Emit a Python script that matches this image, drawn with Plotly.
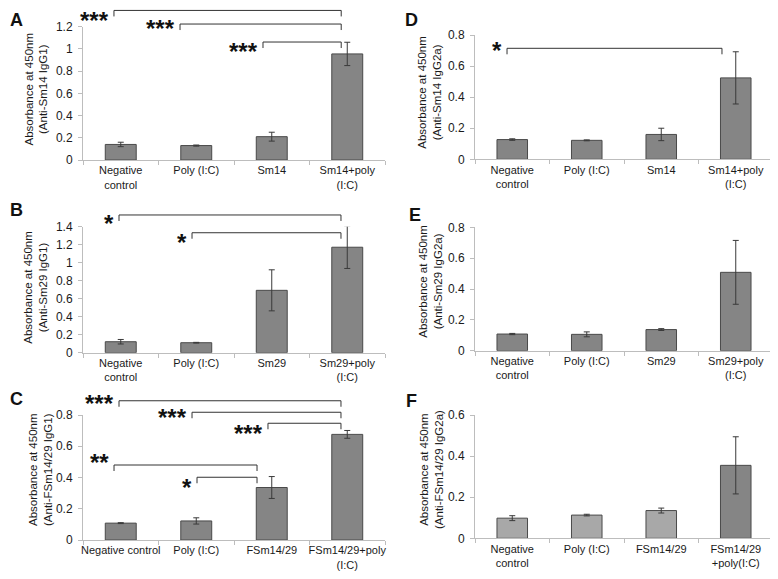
import plotly.graph_objects as go

# The page body adds an 8 px margin, so the figure is drawn 8 px smaller and
# every reference pixel position is shifted by that margin.
OFF = 8
W, H = 778 - OFF, 579 - OFF


def fx(px):
    return (px - OFF) / W


def fy(py):
    return 1 - (py - OFF) / H


# ---------------- data ----------------
cats_A = ["Negative<br>control", "Poly (I:C)", "Sm14", "Sm14+poly<br>(I:C)"]
vals_A = [0.14, 0.13, 0.21, 0.955]
err_A = [0.02, 0.005, 0.04, 0.105]

cats_B = ["Negative<br>control", "Poly (I:C)", "Sm29", "Sm29+poly<br>(I:C)"]
vals_B = [0.122, 0.111, 0.693, 1.172]
err_B = [0.025, 0.004, 0.228, 0.236]

cats_C = ["Negative control", "Poly (I:C)", "FSm14/29", "FSm14/29+poly<br>(I:C)"]
vals_C = [0.108, 0.122, 0.336, 0.676]
err_C = [0.003, 0.02, 0.07, 0.025]

cats_D = ["Negative<br>control", "Poly (I:C)", "Sm14", "Sm14+poly<br>(I:C)"]
vals_D = [0.127, 0.122, 0.16, 0.524]
err_D = [0.005, 0.003, 0.04, 0.168]

cats_E = ["Negative<br>control", "Poly (I:C)", "Sm29", "Sm29+poly<br>(I:C)"]
vals_E = [0.108, 0.106, 0.137, 0.508]
err_E = [0.004, 0.016, 0.006, 0.207]

cats_F = ["Negative<br>control", "Poly (I:C)", "FSm14/29", "FSm14/29<br>+poly(I:C)"]
vals_F = [0.098, 0.113, 0.135, 0.355]
err_F = [0.012, 0.004, 0.012, 0.139]

titles = {
    "A": "Absorbance at 450nm<br>(Anti-Sm14 IgG1)",
    "B": "Absorbance at 450nm<br>(Anti-Sm29 IgG1)",
    "C": "Absorbance at 450nm<br>(Anti-FSm14/29 IgG1)",
    "D": "Absorbance at 450nm<br>(Anti-Sm14 IgG2a)",
    "E": "Absorbance at 450nm<br>(Anti-Sm29 IgG2a)",
    "F": "Absorbance at 450nm<br>(Anti-FSm14/29 IgG2a)",
}

ymax = {"A": 1.2, "B": 1.4, "C": 0.8, "D": 0.8, "E": 0.8, "F": 0.6}
ytick_vals = {
    "A": [0, 0.2, 0.4, 0.6, 0.8, 1.0, 1.2],
    "B": [0, 0.2, 0.4, 0.6, 0.8, 1.0, 1.2, 1.4],
    "C": [0, 0.2, 0.4, 0.6, 0.8],
    "D": [0, 0.2, 0.4, 0.6, 0.8],
    "E": [0, 0.2, 0.4, 0.6, 0.8],
    "F": [0, 0.2, 0.4, 0.6],
}
ytick_text = {
    "A": ["0", "0.2", "0.4", "0.6", "0.8", "1", "1.2"],
    "B": ["0", "0.2", "0.4", "0.6", "0.8", "1", "1.2", "1.4"],
    "C": ["0", "0.2", "0.4", "0.6", "0.8"],
    "D": ["0", "0.2", "0.4", "0.6", "0.8"],
    "E": ["0", "0.2", "0.4", "0.6", "0.8"],
    "F": ["0", "0.2", "0.4", "0.6"],
}

# significance brackets: (from category pos, to category pos, bracket height in
# axis-domain units, star text, star centre in axis-domain units)
sig_A = [(-0.09, 2.92, 1.122, "***", 1.088),
         (0.785, 2.92, 1.020, "***", 1.028),
         (1.884, 2.92, 0.885, "***", 0.855)]
sig_B = [(-0.023, 2.917, 1.093, "*", 1.069),
         (0.944, 2.917, 0.952, "*", 0.918)]
sig_C = [(-0.023, 2.917, 1.114, "***", 1.136),
         (0.944, 2.917, 1.022, "***", 1.026),
         (1.95, 2.917, 0.934, "***", 0.896),
         (-0.089, 1.805, 0.600, "**", 0.666),
         (1.01, 1.805, 0.502, "*", 0.466)]
sig_D = [(-0.07, 2.815, 0.893, "*", 0.920)]
sig_E = []
sig_F = []

# ---------------- layout (reference pixel geometry) ----------------
# x0, x1, y_bottom(value 0), y_top(value ymax)
geom = {
    "A": (83, 385, 160.0, 26.7),
    "B": (83, 385, 352.7, 226.7),
    "C": (83, 385, 540.0, 415.0),
    "D": (475, 773, 159.3, 35.0),
    "E": (475, 773, 350.7, 227.3),
    "F": (475, 773, 538.3, 415.0),
}
title_pos = {"A": (36, 89.5), "B": (36, 287.7), "C": (40, 470),
             "D": (430, 91.7), "E": (431, 281.7), "F": (431, 470)}
letter_pos = {"A": (16, 20), "B": (16, 210), "C": (16, 399),
              "D": (411, 20), "E": (415, 215), "F": (412, 401)}

panels = [
    ("A", cats_A, vals_A, err_A, sig_A),
    ("B", cats_B, vals_B, err_B, sig_B),
    ("C", cats_C, vals_C, err_C, sig_C),
    ("D", cats_D, vals_D, err_D, sig_D),
    ("E", cats_E, vals_E, err_E, sig_E),
    ("F", cats_F, vals_F, err_F, sig_F),
]

FONT = "Arial, Liberation Sans, sans-serif"
TXT = "#1a1a1a"
AXC = "#bdbdbd"
BAR = "#858585"
BAR_LIGHT = "#a8a8a8"
EDGE = "#4a4a4a"

fig = go.Figure()
layout = dict(
    width=W, height=H, autosize=False,
    margin=dict(l=0, r=0, t=0, b=0, pad=0, autoexpand=False),
    paper_bgcolor="white", plot_bgcolor="white",
    showlegend=False, bargap=0.59,
    font=dict(family=FONT, size=11, color=TXT),
)
shapes = []
annotations = []

for i, (key, cats, vals, errs, sigs) in enumerate(panels, start=1):
    xa = "x" if i == 1 else f"x{i}"
    ya = "y" if i == 1 else f"y{i}"
    x0, x1, yb, yt = geom[key]
    if key == "F":
        colors = [BAR_LIGHT, BAR_LIGHT, BAR_LIGHT, BAR]
    else:
        colors = [BAR] * len(vals)
    fig.add_trace(go.Bar(
        x=cats, y=vals, xaxis=xa, yaxis=ya,
        marker=dict(color=colors, line=dict(color=EDGE, width=1)),
        error_y=dict(type="data", array=errs, color="#3a3a3a", thickness=1, width=3),
    ))
    axname_x = "xaxis" if i == 1 else f"xaxis{i}"
    axname_y = "yaxis" if i == 1 else f"yaxis{i}"
    layout[axname_x] = dict(
        domain=[fx(x0), fx(x1)], anchor=ya, type="category",
        categoryorder="array", categoryarray=cats, automargin=False,
        tickson="boundaries", ticks="outside", ticklen=4, tickcolor=AXC,
        showline=True, linecolor=AXC, linewidth=1, showgrid=False,
        zeroline=False, tickfont=dict(size=11, color=TXT, family=FONT),
        range=[-0.5, len(cats) - 0.5], fixedrange=True, tickangle=0,
    )
    layout[axname_y] = dict(
        domain=[fy(yb), fy(yt)], anchor=xa, automargin=False,
        range=[0, ymax[key]], tickmode="array",
        tickvals=ytick_vals[key], ticktext=ytick_text[key],
        ticks="outside", ticklen=4, tickcolor=AXC,
        showline=True, linecolor=AXC, linewidth=1, showgrid=False,
        zeroline=False, tickfont=dict(size=12, color=TXT, family=FONT),
        ticklabelstandoff=3, fixedrange=True,
    )
    # y-axis title
    tx, ty = title_pos[key]
    annotations.append(dict(
        text=titles[key], xref="paper", yref="paper", x=fx(tx), y=fy(ty),
        xanchor="center", yanchor="middle", textangle=-90, showarrow=False,
        font=dict(size=11.5, color=TXT, family=FONT),
    ))
    # panel letter
    lx, ly = letter_pos[key]
    annotations.append(dict(
        text=f"<b>{key}</b>", xref="paper", yref="paper", x=fx(lx), y=fy(ly),
        xanchor="center", yanchor="middle", showarrow=False,
        font=dict(size=18, color="#111", family=FONT),
    ))
    # significance brackets
    drop = 6.0 / (yb - yt)
    ydom = f"{ya} domain"
    for (a, b, hgt, star, sy) in sigs:
        line = dict(color="#333", width=1)
        shapes.append(dict(type="line", xref=xa, yref=ydom, x0=a, x1=b, y0=hgt, y1=hgt, line=line))
        shapes.append(dict(type="line", xref=xa, yref=ydom, x0=a, x1=a, y0=hgt, y1=hgt - drop, line=line))
        shapes.append(dict(type="line", xref=xa, yref=ydom, x0=b, x1=b, y0=hgt, y1=hgt - drop, line=line))
        annotations.append(dict(
            text=f"<b>{star}</b>", xref=xa, yref=ydom, x=a, y=sy,
            xanchor="right", yanchor="middle", xshift=-3, yshift=-5.5,
            showarrow=False, font=dict(size=24, color="#111", family=FONT),
        ))

layout["shapes"] = shapes
layout["annotations"] = annotations
fig.update_layout(**layout)
fig.write_html("out.html")
